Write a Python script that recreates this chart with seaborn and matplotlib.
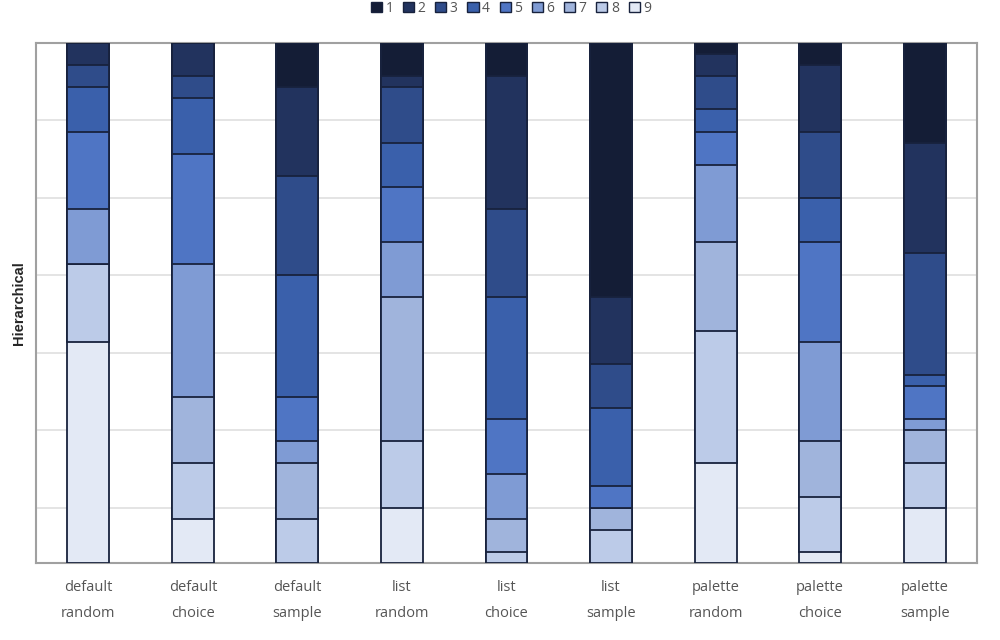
import numpy as np
import pandas as pd
import matplotlib
matplotlib.use("Agg")
import matplotlib.pyplot as plt
import seaborn as sns
from matplotlib.patches import Patch

sns.set_style("white")
plt.rcParams['font.family'] = ['Open Sans', 'DejaVu Sans']

# bar labels (method / function)
methods = ["default\nrandom", "default\nchoice", "default\nsample",
           "list\nrandom", "list\nchoice", "list\nsample",
           "palette\nrandom", "palette\nchoice", "palette\nsample"]
levels = ["1", "2", "3", "4", "5", "6", "7", "8", "9"]

# counts per level (top to bottom of each bar)
lvl1 = [0, 0, 4, 3, 3, 23, 1, 2, 9]
lvl2 = [2, 3, 8, 1, 12, 6, 2, 6, 10]
lvl3 = [2, 2, 9, 5, 8, 4, 3, 6, 11]
lvl4 = [4, 5, 11, 4, 11, 7, 2, 4, 1]
lvl5 = [7, 10, 4, 5, 5, 2, 3, 9, 3]
lvl6 = [5, 12, 2, 5, 4, 0, 7, 9, 1]
lvl7 = [0, 6, 5, 13, 3, 2, 8, 5, 3]
lvl8 = [7, 5, 4, 6, 1, 3, 12, 5, 4]
lvl9 = [20, 4, 0, 5, 0, 0, 9, 1, 5]

colors = ["#141d36", "#22335e", "#2f4c8a", "#3a60ab", "#4f75c4",
          "#7f9bd4", "#a0b4dc", "#bccbe8", "#e3e9f5"]
edge = "#18223d"

df = pd.DataFrame(np.array([lvl1, lvl2, lvl3, lvl4, lvl5, lvl6, lvl7, lvl8, lvl9]).T,
                  columns=levels)
df["method"] = methods
cum = df[levels].cumsum(axis=1)
total = cum["9"].max()

fig = plt.figure(figsize=(10, 6.4), dpi=100)
ax = fig.add_axes([0.036, 0.1203, 0.941, 0.8125])

# draw cumulative bars, largest first, so each level shows on top of the next
for lvl, col in zip(levels[::-1], colors[::-1]):
    sns.barplot(x=df["method"], y=cum[lvl], color=col, saturation=1,
                width=0.4, edgecolor=edge, linewidth=1.3, errorbar=None,
                ax=ax, zorder=3)

ax.set_ylim(total, 0)
ax.set_xlim(-0.5, len(methods) - 0.5)
ax.set_yticks(np.arange(0, total, 7))
ax.set_yticklabels([])
ax.grid(axis="y", color="#e2e2e2", linewidth=1.3, zorder=0)
ax.set_axisbelow(True)
ax.tick_params(axis="both", length=0)
ax.tick_params(axis="x", pad=12, labelsize=10.5, labelcolor="#555555")
for t in ax.get_xticklabels():
    t.set_linespacing(2.0)
ax.set_xlabel("")
ax.set_ylabel("Hierarchical", fontsize=10.5, fontweight="bold",
              family=["Liberation Sans", "DejaVu Sans"], labelpad=4)
for s in ax.spines.values():
    s.set_color("#a0a0a0")
    s.set_linewidth(1.5)

handles = [Patch(facecolor=c, edgecolor=edge, label=l) for c, l in zip(colors, levels)]
fig.legend(handles=handles, loc="center", bbox_to_anchor=(0.511, 0.987), ncol=9,
           frameon=False, fontsize=10, handlelength=0.8, handleheight=0.8,
           handletextpad=0.25, columnspacing=0.7, labelcolor="#555555")

plt.savefig("out.png", dpi=100)
